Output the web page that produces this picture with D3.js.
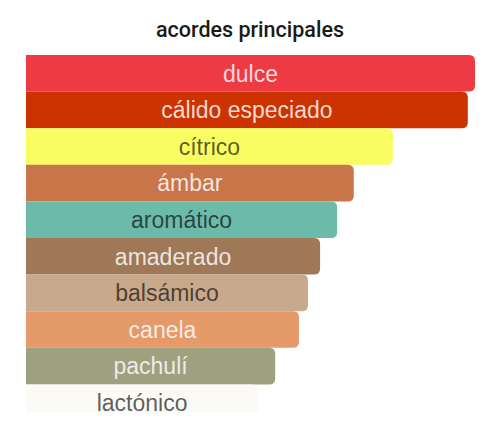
<!DOCTYPE html>
<html>
<head>
<meta charset="utf-8">
<script src="https://cdn.jsdelivr.net/npm/d3@7"></script>
<style>
  html, body { margin: 0; padding: 0; background: #fff; }
  svg { display: block; }
</style>
</head>
<body>
<svg id="chart" width="500" height="431"></svg>
<script>
const title = "acordes principales";
const categories = ["dulce", "cálido especiado", "cítrico", "ámbar", "aromático", "amaderado", "balsámico", "canela", "pachulí", "lactónico"];
const values = [100, 98.4, 81.7, 73, 69.3, 65.5, 62.8, 60.8, 55.5, 51.7];
const colors = ["#ee3a43", "#cc3300", "#f9fd62", "#c8754a", "#6cbbaa", "#9f7857", "#c9a98c", "#e59a6a", "#9ea07f", "#fcfaf6"];
const labelTones = ["light", "light", "dark", "light", "dark", "light", "dark", "light", "light", "dark"];

(function () {
const svg = d3.select("#chart");
const W = 500;
const mLeft = 26, mRight = 475, mTop = 55, mBottom = 421, clipBottom = 412;

const x = d3.scaleLinear().domain([0, 100]).range([mLeft, mRight]);
const y = d3.scaleBand().domain(categories).range([mTop, mBottom]).padding(0);

svg.append("defs").append("clipPath").attr("id", "clip")
  .append("rect").attr("x", 0).attr("y", 0).attr("width", W).attr("height", clipBottom);

svg.append("text")
  .attr("x", 250).attr("y", 37)
  .attr("text-anchor", "middle")
  .attr("font-family", "Roboto, 'Liberation Sans', Arial, sans-serif")
  .attr("font-size", 21.5)
  .attr("font-weight", 500)
  .attr("fill", "#1a1a1a")
  .text(title);

const data = categories.map((c, i) => ({ c, v: values[i], col: colors[i], tone: labelTones[i] }));

function barPath(x0, y0, w, h, r) {
  r = Math.min(r, w, h / 2);
  return `M${x0},${y0}H${x0 + w - r}Q${x0 + w},${y0} ${x0 + w},${y0 + r}` +
         `V${y0 + h - r}Q${x0 + w},${y0 + h} ${x0 + w - r},${y0 + h}H${x0}Z`;
}

const g = svg.append("g").attr("clip-path", "url(#clip)");

const rows = g.selectAll("g.row").data(data).join("g").attr("class", "row");

rows.append("path")
  .attr("d", d => barPath(x(0), y(d.c), x(d.v) - x(0), y.bandwidth(), 6))
  .attr("fill", d => d.col);

rows.append("text")
  .attr("x", d => (x(0) + x(d.v)) / 2)
  .attr("y", d => y(d.c) + y.bandwidth() / 2)
  .attr("dy", "0.36em")
  .attr("text-anchor", "middle")
  .attr("font-family", "'Liberation Sans', Arial, sans-serif")
  .attr("font-size", 23)
  .attr("fill", d => d.tone === "light" ? "#fff" : "#000")
  .attr("fill-opacity", d => d.tone === "light" ? 0.82 : 0.65)
  .text(d => d.c);
})();
</script>
</body>
</html>
